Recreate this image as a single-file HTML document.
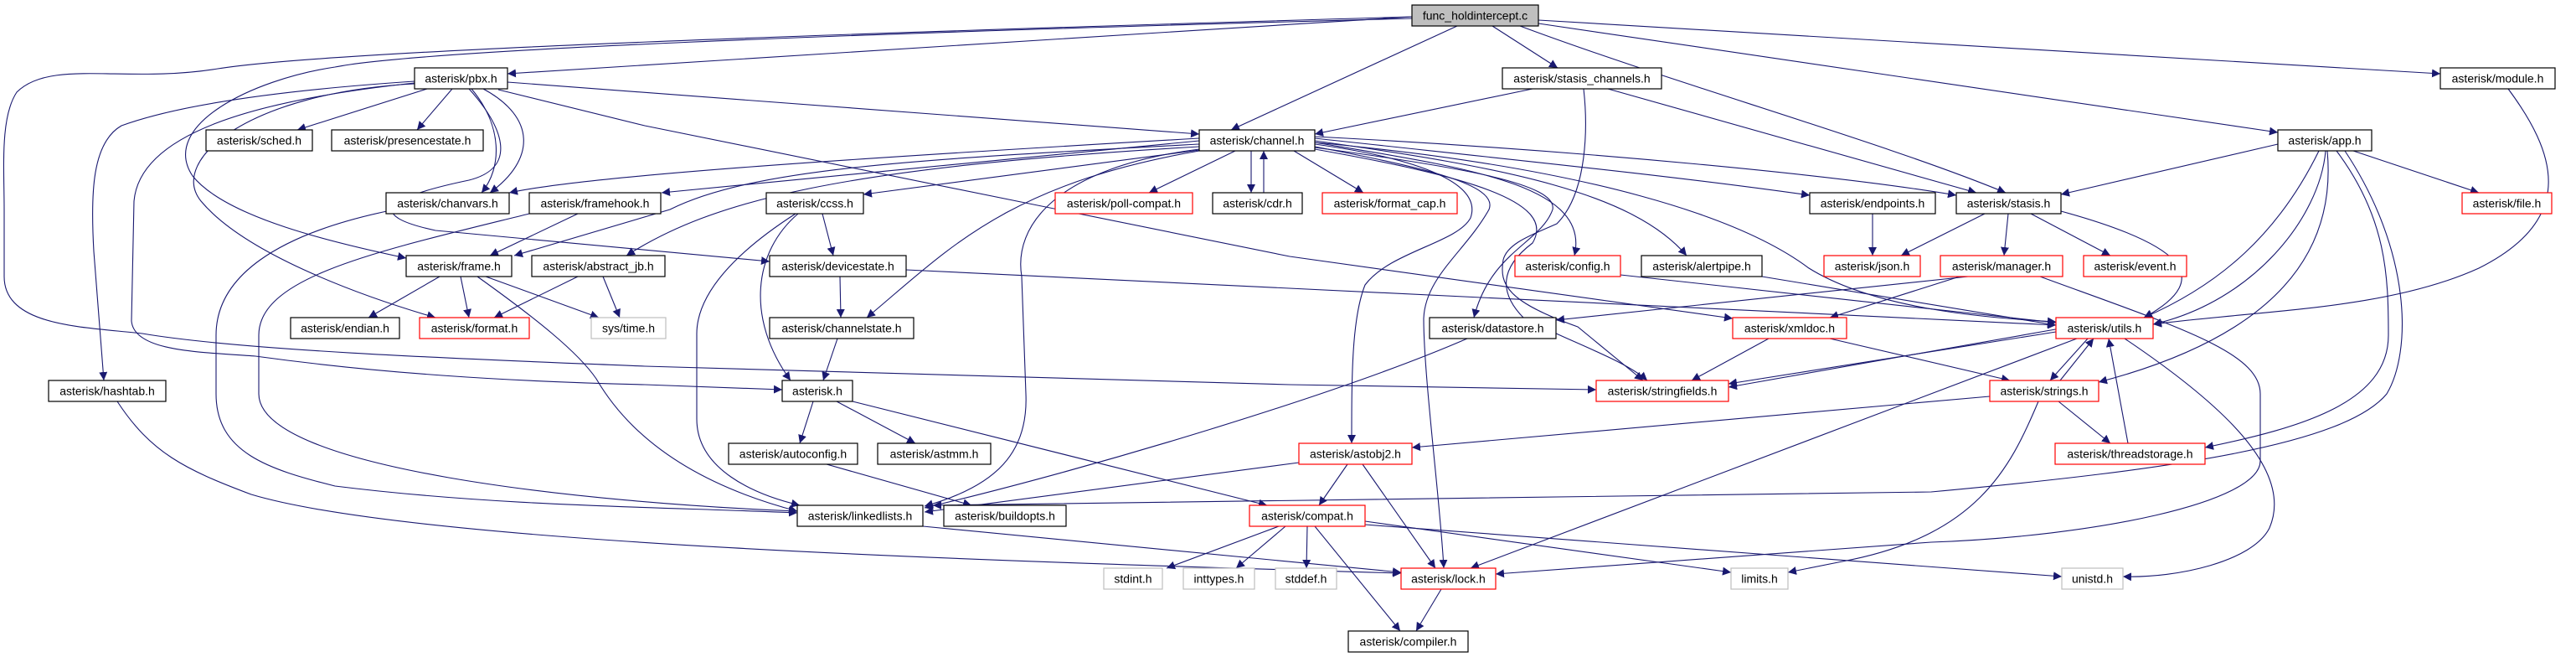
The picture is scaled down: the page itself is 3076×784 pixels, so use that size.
<!DOCTYPE html>
<html><head><meta charset="utf-8"><style>
html,body{margin:0;padding:0;background:#fff;width:3076px;height:784px;overflow:hidden}
svg text{font-family:"Liberation Sans",sans-serif;font-size:14px;fill:#000}
.e{fill:none;stroke:#191970;stroke-width:1.1}
</style></head><body>
<svg width="3076" height="784" viewBox="0 0 3076 784" xmlns="http://www.w3.org/2000/svg">
<defs><marker id="a" markerUnits="userSpaceOnUse" markerWidth="12" markerHeight="12" refX="10" refY="5" orient="auto"><path d="M0,0 L10,5 L0,10 Z" fill="#191970"/></marker></defs>
<g class="e" marker-end="url(#a)">
<path d="M1686,20 L606,88"/>
<path d="M1740,31 L1470,155"/>
<path d="M1782,31 L1860,81"/>
<path d="M1815,31 C2000,100 2250,170 2395,230"/>
<path d="M1837,24 L2914,88"/>
<path d="M1837,28 L2720,158"/>
<path d="M1686,22 C1000,40 500,60 400,80 C300,95 190,150 230,210 C270,260 400,290 485,308"/>
<path d="M1686,20 C1000,40 400,60 260,82 C150,100 60,70 20,110 C0,140 5,200 5,250 L5,330 C5,390 100,390 170,398 C300,420 600,430 770,437 L1540,459 L1906,465"/>
<path d="M495,99 C300,120 167,160 160,240 L157,383 C160,420 240,420 305,425 C450,445 600,455 770,459 L934,465"/>
<path d="M510,106 L355,155"/>
<path d="M540,106 L498,155"/>
<path d="M563,106 C600,150 600,200 575,230"/>
<path d="M577,106 C640,140 640,190 585,230"/>
<path d="M606,98 L1432,160"/>
<path d="M595,107 L770,150 L1540,306 L2069,380"/>
<path d="M560,106 C600,150 620,200 560,215 C440,240 450,260 520,275 L919,312"/>
<path d="M495,100 C300,110 200,190 240,240 C290,300 420,350 520,379"/>
<path d="M495,97 C300,110 200,130 145,150 C110,170 108,230 112,300 L124,454"/>
<path d="M140,479 C180,540 220,560 300,590 C500,650 1200,670 1673,684"/>
<path d="M462,252 C330,280 258,330 258,400 L258,470 C258,540 320,560 400,580 C600,605 800,605 952,612"/>
<path d="M632,255 C450,300 309,330 309,400 L309,470 C309,560 700,600 952,610"/>
<path d="M690,255 L585,305"/>
<path d="M1432,165 C1000,190 700,210 608,230"/>
<path d="M1432,168 L790,230"/>
<path d="M1432,172 C1100,190 900,200 800,250 L614,305"/>
<path d="M1432,175 C1000,200 850,240 748,305"/>
<path d="M1440,178 L1031,232"/>
<path d="M1475,180 L1372,230"/>
<path d="M1494,180 L1494,230"/>
<path d="M1509,230 L1509,180"/>
<path d="M1545,180 L1628,230"/>
<path d="M1432,180 C1200,220 1130,300 1035,379"/>
<path d="M1432,178 C1260,200 1210,270 1220,330 L1225,470 C1228,540 1190,580 1104,604"/>
<path d="M1570,172 C1700,190 1770,220 1756,260 C1740,290 1660,300 1630,340 C1614,380 1614,450 1614,529"/>
<path d="M1570,175 C1700,200 1790,220 1778,250 C1750,300 1702,330 1700,380 C1700,450 1720,600 1724,678"/>
<path d="M1570,176 C1750,200 1860,220 1854,250 C1840,290 1780,300 1760,379"/>
<path d="M1570,178 C1750,210 1860,240 1830,290 C1790,320 1790,350 1820,380 C1880,410 1940,430 1967,454"/>
<path d="M1570,170 C1750,200 1900,220 1880,305"/>
<path d="M1570,168 C1800,200 1950,230 2014,305"/>
<path d="M1570,165 C1800,190 2000,210 2161,233"/>
<path d="M1570,163 C1900,180 2200,210 2336,233"/>
<path d="M1570,170 C1900,200 2080,260 2160,320 C2240,370 2380,380 2455,384"/>
<path d="M982,255 L995,305"/>
<path d="M953,255 C900,300 890,380 944,454"/>
<path d="M950,255 C880,300 831,350 832,400 L832,500 C832,560 900,590 955,603"/>
<path d="M1003,330 L1004,379"/>
<path d="M1082,322 L2455,388"/>
<path d="M1000,404 L983,454"/>
<path d="M1830,106 L1570,160"/>
<path d="M1920,106 L2360,230"/>
<path d="M1891,106 C1896,150 1896,230 1859,267 C1830,280 1800,290 1795,310 C1790,340 1800,360 1884,390 L1962,454"/>
<path d="M2720,172 L2461,232"/>
<path d="M2810,180 L2960,230"/>
<path d="M2769,180 C2720,280 2650,340 2560,379"/>
<path d="M2777,180 C2770,260 2690,360 2571,387"/>
<path d="M2779,180 C2790,300 2720,400 2506,456"/>
<path d="M2790,180 C2850,260 2852,330 2852,400 C2852,480 2750,510 2633,534"/>
<path d="M2800,180 C2880,300 2880,420 2850,470 C2800,530 2600,560 2306,587 L1114,603"/>
<path d="M2436,330 C2600,390 2699,420 2699,470 L2699,550 C2699,600 2500,640 2306,647 L1786,685"/>
<path d="M2350,330 L1858,382"/>
<path d="M2340,330 L2185,379"/>
<path d="M2370,255 L2270,305"/>
<path d="M2398,255 L2393,305"/>
<path d="M2425,255 L2520,305"/>
<path d="M2461,252 C2600,290 2650,330 2560,379"/>
<path d="M2995,106 C3050,180 3080,260 2960,320 C2850,370 2700,370 2571,387"/>
<path d="M2236,255 L2236,305"/>
<path d="M1935,328 L2455,385"/>
<path d="M2104,330 L2455,388"/>
<path d="M1752,404 C1600,470 1300,560 1104,606"/>
<path d="M2112,404 L2020,454"/>
<path d="M2185,404 L2400,454"/>
<path d="M2455,396 L2064,458"/>
<path d="M2460,392 L2064,462"/>
<path d="M2493,404 L2448,454"/>
<path d="M2460,454 L2500,404"/>
<path d="M2480,404 L1756,678"/>
<path d="M2537,404 C2650,480 2740,560 2710,630 C2690,670 2600,690 2535,688"/>
<path d="M2541,529 L2518,404"/>
<path d="M2458,479 L2520,529"/>
<path d="M2376,473 L1686,534"/>
<path d="M2434,479 C2400,560 2360,640 2200,670 L2135,683"/>
<path d="M1630,622 L2067,683"/>
<path d="M1630,626 L2462,688"/>
<path d="M1609,554 L1575,603"/>
<path d="M1627,554 L1714,678"/>
<path d="M1551,552 L1104,611"/>
<path d="M971,479 L955,529"/>
<path d="M999,479 L1093,529"/>
<path d="M1018,479 L1513,603"/>
<path d="M987,554 L1160,603"/>
<path d="M1102,628 L1673,683"/>
<path d="M1527,628 L1393,678"/>
<path d="M1535,628 L1476,678"/>
<path d="M1561,628 L1560,678"/>
<path d="M1570,628 L1672,753"/>
<path d="M1721,703 L1691,753"/>
<path d="M525,330 L440,379"/>
<path d="M550,330 L560,379"/>
<path d="M580,330 L715,379"/>
<path d="M570,330 C640,380 690,420 712,452 C740,500 800,570 952,610"/>
<path d="M690,330 L590,379"/>
<path d="M720,330 L740,379"/>
</g>
<g stroke-width="1.2">
<!-- nodes: x,y,w,label,color -->
<rect x="1686" y="6" width="151" height="25" fill="#bfbfbf" stroke="#000"/><text x="1761.5" y="23.5" text-anchor="middle">func_holdintercept.c</text>
<rect x="495" y="81" width="111" height="25" fill="#fff" stroke="#000"/><text x="550.5" y="98.5" text-anchor="middle">asterisk/pbx.h</text>
<rect x="1794" y="81" width="190" height="25" fill="#fff" stroke="#000"/><text x="1889" y="98.5" text-anchor="middle">asterisk/stasis_channels.h</text>
<rect x="2914" y="81" width="137" height="25" fill="#fff" stroke="#000"/><text x="2982.5" y="98.5" text-anchor="middle">asterisk/module.h</text>
<rect x="246" y="155" width="127" height="25" fill="#fff" stroke="#000"/><text x="309.5" y="172.5" text-anchor="middle">asterisk/sched.h</text>
<rect x="396" y="155" width="181" height="25" fill="#fff" stroke="#000"/><text x="486.5" y="172.5" text-anchor="middle">asterisk/presencestate.h</text>
<rect x="1432" y="155" width="138" height="25" fill="#fff" stroke="#000"/><text x="1501" y="172.5" text-anchor="middle">asterisk/channel.h</text>
<rect x="2720" y="155" width="112" height="25" fill="#fff" stroke="#000"/><text x="2776" y="172.5" text-anchor="middle">asterisk/app.h</text>
<rect x="461" y="230" width="147" height="25" fill="#fff" stroke="#000"/><text x="534.5" y="247.5" text-anchor="middle">asterisk/chanvars.h</text>
<rect x="632" y="230" width="157" height="25" fill="#fff" stroke="#000"/><text x="710.5" y="247.5" text-anchor="middle">asterisk/framehook.h</text>
<rect x="915" y="230" width="116" height="25" fill="#fff" stroke="#000"/><text x="973" y="247.5" text-anchor="middle">asterisk/ccss.h</text>
<rect x="1260" y="230" width="164" height="25" fill="#fff" stroke="#f00"/><text x="1342" y="247.5" text-anchor="middle">asterisk/poll-compat.h</text>
<rect x="1448" y="230" width="107" height="25" fill="#fff" stroke="#000"/><text x="1501.5" y="247.5" text-anchor="middle">asterisk/cdr.h</text>
<rect x="1579" y="230" width="161" height="25" fill="#fff" stroke="#f00"/><text x="1659.5" y="247.5" text-anchor="middle">asterisk/format_cap.h</text>
<rect x="2161" y="230" width="150" height="25" fill="#fff" stroke="#000"/><text x="2236" y="247.5" text-anchor="middle">asterisk/endpoints.h</text>
<rect x="2336" y="230" width="125" height="25" fill="#fff" stroke="#000"/><text x="2398.5" y="247.5" text-anchor="middle">asterisk/stasis.h</text>
<rect x="2940" y="230" width="107" height="25" fill="#fff" stroke="#f00"/><text x="2993.5" y="247.5" text-anchor="middle">asterisk/file.h</text>
<rect x="485" y="305" width="126" height="25" fill="#fff" stroke="#000"/><text x="548" y="322.5" text-anchor="middle">asterisk/frame.h</text>
<rect x="635" y="305" width="159" height="25" fill="#fff" stroke="#000"/><text x="714.5" y="322.5" text-anchor="middle">asterisk/abstract_jb.h</text>
<rect x="919" y="305" width="163" height="25" fill="#fff" stroke="#000"/><text x="1000.5" y="322.5" text-anchor="middle">asterisk/devicestate.h</text>
<rect x="1809" y="305" width="126" height="25" fill="#fff" stroke="#f00"/><text x="1872" y="322.5" text-anchor="middle">asterisk/config.h</text>
<rect x="1960" y="305" width="144" height="25" fill="#fff" stroke="#000"/><text x="2032" y="322.5" text-anchor="middle">asterisk/alertpipe.h</text>
<rect x="2178" y="305" width="115" height="25" fill="#fff" stroke="#f00"/><text x="2235.5" y="322.5" text-anchor="middle">asterisk/json.h</text>
<rect x="2317" y="305" width="146" height="25" fill="#fff" stroke="#f00"/><text x="2390" y="322.5" text-anchor="middle">asterisk/manager.h</text>
<rect x="2488" y="305" width="123" height="25" fill="#fff" stroke="#f00"/><text x="2549.5" y="322.5" text-anchor="middle">asterisk/event.h</text>
<rect x="347" y="379" width="130" height="25" fill="#fff" stroke="#000"/><text x="412" y="396.5" text-anchor="middle">asterisk/endian.h</text>
<rect x="501" y="379" width="131" height="25" fill="#fff" stroke="#f00"/><text x="566.5" y="396.5" text-anchor="middle">asterisk/format.h</text>
<rect x="706" y="379" width="89" height="25" fill="#fff" stroke="#bfbfbf"/><text x="750.5" y="396.5" text-anchor="middle">sys/time.h</text>
<rect x="919" y="379" width="172" height="25" fill="#fff" stroke="#000"/><text x="1005" y="396.5" text-anchor="middle">asterisk/channelstate.h</text>
<rect x="1707" y="379" width="151" height="25" fill="#fff" stroke="#000"/><text x="1782.5" y="396.5" text-anchor="middle">asterisk/datastore.h</text>
<rect x="2069" y="379" width="136" height="25" fill="#fff" stroke="#f00"/><text x="2137" y="396.5" text-anchor="middle">asterisk/xmldoc.h</text>
<rect x="2455" y="379" width="116" height="25" fill="#fff" stroke="#f00"/><text x="2513" y="396.5" text-anchor="middle">asterisk/utils.h</text>
<rect x="58" y="454" width="140" height="25" fill="#fff" stroke="#000"/><text x="128" y="471.5" text-anchor="middle">asterisk/hashtab.h</text>
<rect x="934" y="454" width="84" height="25" fill="#fff" stroke="#000"/><text x="976" y="471.5" text-anchor="middle">asterisk.h</text>
<rect x="1906" y="454" width="158" height="25" fill="#fff" stroke="#f00"/><text x="1985" y="471.5" text-anchor="middle">asterisk/stringfields.h</text>
<rect x="2376" y="454" width="130" height="25" fill="#fff" stroke="#f00"/><text x="2441" y="471.5" text-anchor="middle">asterisk/strings.h</text>
<rect x="870" y="529" width="154" height="25" fill="#fff" stroke="#000"/><text x="947" y="546.5" text-anchor="middle">asterisk/autoconfig.h</text>
<rect x="1048" y="529" width="135" height="25" fill="#fff" stroke="#000"/><text x="1115.5" y="546.5" text-anchor="middle">asterisk/astmm.h</text>
<rect x="1551" y="529" width="135" height="25" fill="#fff" stroke="#f00"/><text x="1618.5" y="546.5" text-anchor="middle">asterisk/astobj2.h</text>
<rect x="2454" y="529" width="179" height="25" fill="#fff" stroke="#f00"/><text x="2543.5" y="546.5" text-anchor="middle">asterisk/threadstorage.h</text>
<rect x="952" y="603" width="150" height="25" fill="#fff" stroke="#000"/><text x="1027" y="620.5" text-anchor="middle">asterisk/linkedlists.h</text>
<rect x="1127" y="603" width="146" height="25" fill="#fff" stroke="#000"/><text x="1200" y="620.5" text-anchor="middle">asterisk/buildopts.h</text>
<rect x="1492" y="603" width="138" height="25" fill="#fff" stroke="#f00"/><text x="1561" y="620.5" text-anchor="middle">asterisk/compat.h</text>
<rect x="1318" y="678" width="70" height="25" fill="#fff" stroke="#bfbfbf"/><text x="1353" y="695.5" text-anchor="middle">stdint.h</text>
<rect x="1413" y="678" width="85" height="25" fill="#fff" stroke="#bfbfbf"/><text x="1455.5" y="695.5" text-anchor="middle">inttypes.h</text>
<rect x="1523" y="678" width="73" height="25" fill="#fff" stroke="#bfbfbf"/><text x="1559.5" y="695.5" text-anchor="middle">stddef.h</text>
<rect x="1673" y="678" width="113" height="25" fill="#fff" stroke="#f00"/><text x="1729.5" y="695.5" text-anchor="middle">asterisk/lock.h</text>
<rect x="2067" y="678" width="68" height="25" fill="#fff" stroke="#bfbfbf"/><text x="2101" y="695.5" text-anchor="middle">limits.h</text>
<rect x="2462" y="678" width="73" height="25" fill="#fff" stroke="#bfbfbf"/><text x="2498.5" y="695.5" text-anchor="middle">unistd.h</text>
<rect x="1610" y="753" width="143" height="25" fill="#fff" stroke="#000"/><text x="1681.5" y="770.5" text-anchor="middle">asterisk/compiler.h</text>
</g>
</svg>
</body></html>
